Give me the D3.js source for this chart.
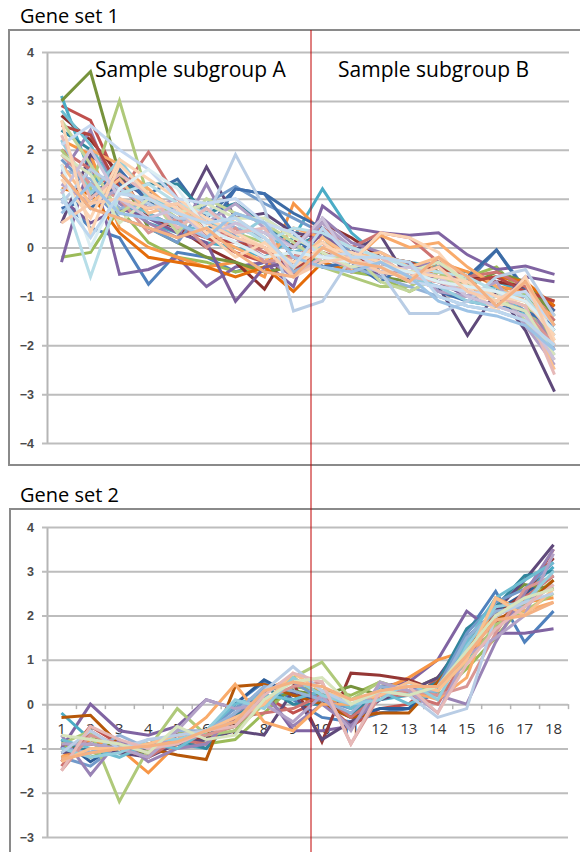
<!DOCTYPE html>
<html>
<head>
<meta charset="utf-8">
<script src="https://cdn.jsdelivr.net/npm/d3@7"></script>
<style>
  body { margin: 0; background: #fff; }
  svg { display: block; font-family: Carlito, Calibri, "Open Sans", sans-serif; }
</style>
</head>
<body>
<div id="chart"></div>
<script>
// samples 1..18
var samples = d3.range(1, 19);

// gene set 1 profiles (one row per gene)
var set1Colors = ["#4F81BD", "#C0504D", "#9BBB59", "#8064A2", "#4BACC6", "#F79646",
  "#3C6BA5", "#8B2F2C", "#77933C", "#5F497A", "#31859C", "#E46C0A",
  "#729ACA", "#CD7371", "#AFC97A", "#9983B5", "#6FBDD1", "#F9AB6B",
  "#3F6FAE", "#B34541", "#7A5C99", "#95B3D7", "#D99694", "#C3D69B",
  "#B3A2C7", "#93CDDD", "#FAC090", "#B9CDE5", "#B7DEE8", "#FCD5B5",
  "#E6B9B8", "#D7E4BD", "#CCC1DA", "#C6D9F1", "#FBD4B4", "#DBEEF3",
  "#F8CBAD", "#9DC3E6", "#F4B183", "#BDD7EE"];
var set1Values = [
  [1.0, 0.4, 0.2, -0.75, -0.1, -0.2, -0.5, -0.3, -0.5, -0.3, -0.5, -0.4, -0.6, -0.4, -0.7, -0.05, -0.85, -1.3],
  [2.9, 2.6, 1.3, 0.7, 0.4, 0.2, -0.1, -0.3, -0.4, -0.1, -0.3, -0.5, -0.6, -0.7, -0.8, -0.9, -0.7, -1.3],
  [-0.2, -0.1, 0.8, 0.1, -0.2, -0.3, -0.5, -0.4, -0.3, -0.1, -0.5, -0.6, -0.9, -0.6, -0.6, -0.4, -1.0, -1.5],
  [-0.3, 1.8, -0.55, -0.45, -0.2, -0.8, -0.4, -0.3, -0.8, 0.85, 0.4, 0.3, 0.25, 0.3, -0.15, -0.45, -0.38, -0.55],
  [3.1, 1.5, 1.0, 0.5, 0.3, 0.1, 0.0, -0.2, 0.2, 1.2, 0.3, -0.2, -0.3, -0.4, -0.5, -0.7, -0.9, -1.6],
  [2.2, 1.9, 0.4, 0.0, -0.2, -0.4, -0.3, -0.6, 0.9, 0.3, -0.5, -0.2, -0.6, -0.3, -0.5, -0.8, -0.9, -1.1],
  [1.5, 0.8, 1.3, 1.1, 1.4, 0.6, 1.2, 1.1, 0.7, 0.4, 0.0, -0.4, -0.5, -0.3, -0.6, -0.05, -0.9, -1.3],
  [2.7, 2.2, 1.5, 0.6, 0.4, 0.0, -0.3, -0.85, 0.1, 0.5, 0.2, -0.2, -0.3, -0.5, -0.6, -0.7, -0.8, -1.2],
  [3.0, 3.6, 1.5, 0.4, 0.1, -0.2, -0.3, -0.5, -0.4, -0.2, -0.4, -0.6, -0.7, -0.4, -0.8, -0.5, -0.7, -1.4],
  [0.5, 1.9, 1.4, 1.0, 0.5, 1.65, 0.6, 0.7, 0.3, 0.2, -0.1, 0.25, -0.7, -0.8, -1.8, -0.9, -1.7, -2.95],
  [2.4, 2.0, 1.2, 1.3, 1.3, 0.7, 0.9, 0.5, 0.0, 0.3, -0.3, -0.4, -0.5, -0.6, -0.9, -0.8, -1.1, -1.7],
  [1.2, 1.1, 0.3, -0.2, -0.3, -0.4, -0.6, -0.4, -0.9, -0.3, -0.5, -0.2, -0.3, -0.6, -0.7, -0.6, -0.7, -1.2],
  [1.8, 1.2, 0.6, 0.4, 0.1, 0.9, 1.25, 0.9, 0.6, 0.3, -0.1, -0.5, -0.6, -0.6, -0.8, -0.9, -1.3, -1.8],
  [2.0, 1.6, 1.1, 1.95, 1.0, 0.4, 0.2, -0.1, -0.2, 0.4, 0.0, 0.3, 0.2, -0.3, -0.6, -0.5, -0.8, -1.5],
  [2.0, 1.2, 3.0, 1.0, 0.6, 0.5, 0.3, 0.1, -0.3, -0.4, -0.6, -0.8, -0.8, -0.5, -0.9, -1.0, -1.2, -1.9],
  [1.5, 2.4, 0.9, 0.5, 0.2, 1.3, 0.2, -0.2, -0.6, 0.6, 0.1, -0.1, -0.4, -0.3, -0.9, -1.1, -1.0, -2.1],
  [2.8, 2.1, 1.0, 0.7, 0.4, 0.4, 0.5, 0.3, -0.1, 0.1, -0.2, -0.3, -0.5, -0.7, -1.0, -0.8, -1.4, -2.0],
  [1.1, 2.0, 1.7, 1.2, 0.7, 0.3, 0.0, -0.3, 0.4, 0.2, -0.3, 0.25, 0.0, 0.1, -0.4, -0.8, -1.1, -1.4],
  [0.8, 1.0, 1.6, 0.9, 0.8, 0.3, 1.2, 1.1, 0.3, -0.4, -0.3, -0.7, -0.3, -0.9, -1.1, -1.2, -1.3, -1.6],
  [2.5, 2.3, 1.2, 0.8, 0.9, 0.2, 0.1, 0.0, -0.5, 0.0, -0.1, -0.5, -0.6, -0.4, -0.7, -0.6, -0.9, -1.1],
  [1.0, 0.5, 0.8, 0.6, 0.3, 0.1, -1.1, -0.4, -0.3, 0.3, -0.2, -0.6, -0.3, -0.7, -1.0, -1.2, -0.6, -0.7],
  [1.6, 1.4, 0.8, 0.9, 0.5, 0.8, 0.4, 0.2, -0.5, -0.2, -0.4, -0.6, -0.8, -1.0, -1.2, -1.3, -1.5, -2.2],
  [1.9, 1.3, 1.0, 0.3, 0.6, 0.0, 0.4, -0.3, -0.2, 0.1, -0.5, -0.3, -0.7, -0.8, -0.9, -1.1, -1.3, -2.0],
  [2.6, 1.7, 0.7, 1.1, 0.3, 1.0, 0.7, 0.5, 0.1, -0.3, -0.1, -0.7, -0.9, -0.6, -0.8, -0.9, -1.5, -2.3],
  [1.3, 0.9, 1.2, 0.8, 1.0, 0.5, 0.9, 0.4, 0.0, 0.5, 0.0, -0.4, -0.5, -0.9, -1.0, -0.7, -1.6, -2.4],
  [2.2, 1.1, 1.8, 1.0, 0.8, 0.6, 0.2, 0.6, 0.2, 0.0, -0.3, -0.5, -0.6, -0.8, -1.1, -1.2, -1.4, -2.1],
  [1.7, 0.9, 1.4, 0.7, 0.9, 0.3, 0.6, 0.2, -0.4, 0.2, -0.2, -0.1, -0.4, -0.2, -0.8, -1.0, -1.2, -2.5],
  [0.9, 1.6, 1.2, 0.9, 0.6, 0.6, 1.9, 0.8, -1.3, -1.1, -0.2, -0.5, -1.35, -1.35, -1.1, -0.6, -0.45, -1.4],
  [1.2, -0.6, 1.1, 1.3, 0.9, 0.7, 0.5, 0.1, 0.4, 0.3, 0.0, -0.2, -0.4, -0.5, -0.6, -0.9, -1.0, -1.8],
  [1.4, 0.6, 1.8, 1.4, 1.0, 0.6, 0.3, 0.0, -0.3, 0.1, -0.3, 0.3, 0.2, -0.1, -0.8, -1.3, -0.6, -1.9],
  [2.3, 1.0, 1.5, 1.1, 0.4, 0.8, 0.3, 0.4, -0.6, -0.2, -0.4, -0.2, -0.6, -0.7, -0.9, -1.0, -1.2, -2.6],
  [1.9, 1.5, 0.5, 1.0, 0.7, 0.9, 0.6, 0.6, 0.2, -0.1, -0.4, -0.3, -0.5, -0.3, -0.7, -1.1, -1.3, -2.2],
  [1.1, 2.0, 1.0, 0.6, 0.8, 0.2, 0.5, 0.3, 0.0, 0.6, -0.3, -0.5, -0.4, -0.6, -1.0, -1.2, -1.4, -2.3],
  [2.1, 2.5, 2.0, 1.6, 1.0, 0.9, 1.0, 0.5, 0.3, -0.2, -0.1, -0.4, -0.7, -0.8, -0.9, -1.0, -0.9, -1.6],
  [2.6, 0.3, 1.7, 1.1, 0.8, 0.3, -0.2, 0.1, -0.4, 0.0, -0.1, -0.3, -0.5, -0.6, -0.7, -1.0, -1.1, -1.8],
  [1.7, 0.0, 1.2, 1.6, 1.2, 0.4, 0.1, -0.2, -0.1, -0.2, -0.3, -0.4, -0.5, -0.7, -0.8, -0.9, -1.1, -1.7],
  [0.5, 0.9, 1.0, 0.8, 0.9, 0.5, 0.2, 0.0, -0.6, -0.3, -0.2, -0.5, -0.6, -0.4, -0.9, -1.1, -0.7, -2.0],
  [0.7, 1.3, 0.7, 0.6, 0.5, 0.2, 0.7, 0.5, -0.2, -0.4, -0.5, -0.3, -0.6, -1.1, -1.3, -1.4, -1.6, -2.1],
  [1.5, 0.8, 0.6, 0.4, 0.2, 0.4, -0.1, -0.5, -0.6, 0.0, -0.3, -0.4, -0.7, -0.2, -0.6, -1.2, -0.7, -1.6],
  [1.0, 0.2, 1.1, 1.0, 0.7, 0.5, 0.6, 0.2, -0.4, 0.4, -0.2, -0.2, -0.3, -1.0, -1.2, -1.3, -1.5, -2.0]
];

// gene set 2 profiles
var set2Colors = ["#4F81BD", "#C0504D", "#9BBB59", "#8064A2", "#4BACC6", "#F79646",
  "#2C5D98", "#953735", "#77933C", "#5F497A", "#31859C", "#B65708",
  "#729ACA", "#CD7371", "#AFC97A", "#9983B5", "#6FBDD1", "#F9AB6B",
  "#95B3D7", "#D99694", "#B3A2C7", "#93CDDD", "#FAC090", "#B9CDE5",
  "#E6B9B8", "#D7E4BD", "#F4B183"];
var set2Values = [
  [-1.0, -0.8, -1.1, -1.0, -0.8, -0.6, 0.0, 0.5, 0.1, -0.3, -0.4, -0.2, -0.1, 0.3, 1.6, 2.55, 1.4, 2.1],
  [-1.3, -0.5, -0.9, -1.1, -0.7, -0.9, -0.3, 0.2, -0.2, 0.1, -0.5, -0.1, 0.0, 0.6, 1.3, 1.8, 2.4, 3.5],
  [-0.9, -1.2, -1.0, -1.2, -0.6, -0.9, -0.8, -0.2, 0.4, 0.3, 0.2, 0.5, 0.3, 0.2, 0.8, 1.5, 2.3, 2.8],
  [-1.0, 0.0, -0.6, -0.7, -0.5, 0.1, -0.1, 0.3, -0.6, -0.6, -0.5, 0.4, 0.5, 1.0, 2.1, 1.6, 1.6, 1.7],
  [-0.2, -0.8, -1.1, -1.1, -0.9, -1.0, -0.2, 0.1, 0.3, 0.0, -0.2, 0.1, 0.2, 0.4, 1.0, 2.0, 2.5, 3.1],
  [-1.2, -0.8, -1.0, -1.55, -0.9, -0.7, -0.4, 0.3, 0.6, 0.2, -0.1, 0.3, 0.6, 1.0, 1.2, 2.0, 2.3, 2.4],
  [-0.8, -1.3, -0.9, -1.0, -0.9, -0.8, 0.0, 0.55, 0.2, 0.1, -0.3, -0.1, -0.1, 0.5, 1.5, 2.1, 2.5, 2.9],
  [-0.9, -0.9, -1.0, -0.9, -0.7, -0.8, -0.4, 0.3, 0.5, -0.85, 0.7, 0.65, 0.55, 0.3, 1.4, 2.0, 2.5, 3.3],
  [-1.1, -0.7, -1.0, -1.1, -0.8, -0.7, -0.5, 0.0, 0.3, 0.2, 0.4, 0.2, 0.3, 0.6, 1.2, 2.2, 2.7, 2.6],
  [-1.1, -1.0, -1.1, -1.2, -0.9, -0.8, -0.6, -0.7, 0.3, -0.8, -0.4, 0.1, 0.3, 0.6, 1.5, 2.1, 2.8, 3.6],
  [-0.8, -1.1, -1.0, -0.9, -0.8, -1.0, -0.3, 0.4, 0.0, 0.0, -0.3, 0.4, 0.2, 0.5, 1.7, 2.2, 2.9, 3.0],
  [-0.3, -0.25, -0.9, -1.0, -1.15, -1.25, 0.4, 0.45, 0.2, 0.0, -0.3, -0.2, -0.2, 0.5, 1.3, 1.9, 2.2, 2.8],
  [-1.2, -1.4, -0.9, -1.0, -0.7, -0.6, -0.1, 0.3, 0.5, 0.1, -0.1, 0.3, 0.4, 0.4, 1.6, 2.3, 2.6, 3.2],
  [-1.4, -0.6, -1.0, -1.2, -0.8, -0.9, -0.3, -0.2, -0.1, 0.2, -0.3, 0.2, 0.2, 0.0, 1.1, 1.7, 2.4, 2.9],
  [-0.9, -0.6, -2.2, -1.0, -0.1, -0.7, -0.6, 0.0, 0.6, 0.95, 0.1, 0.5, 0.3, 0.4, 0.9, 1.8, 2.1, 2.5],
  [-0.7, -1.6, -0.8, -1.3, -1.0, -0.9, -0.2, 0.2, -0.5, 0.0, -0.5, 0.2, 0.4, 0.2, 0.0, 1.4, 2.5, 3.5],
  [-0.8, -1.0, -1.2, -0.9, -1.0, -0.6, 0.0, 0.2, 0.1, 0.3, -0.1, 0.3, 0.0, 0.3, 1.4, 2.4, 2.8, 3.2],
  [-1.2, -1.1, -1.0, -0.9, -0.8, -0.3, 0.45, -0.4, -0.6, 0.0, 0.0, 0.2, 0.3, 0.1, 0.6, 2.4, 2.1, 2.3],
  [-1.0, -1.1, -0.7, -1.0, -0.6, -0.6, -0.2, 0.4, 0.3, 0.1, -0.2, 0.4, 0.3, 0.3, 1.5, 2.1, 2.2, 2.7],
  [-1.5, -0.7, -0.9, -1.1, -0.8, -0.7, -0.5, 0.1, 0.4, 0.5, -0.9, 0.2, 0.3, 0.2, 0.4, 1.6, 2.6, 2.9],
  [-0.9, -0.9, -1.0, -1.2, -0.6, 0.1, -0.1, 0.0, -0.4, 0.2, -0.6, 0.5, 0.3, -0.2, 1.1, 1.5, 2.0, 3.4],
  [-1.0, -1.2, -1.1, -0.8, -0.8, -0.6, 0.1, -0.1, 0.6, 0.2, 0.0, 0.1, 0.5, 0.1, 1.3, 2.2, 2.3, 3.0],
  [-1.3, -1.0, -1.0, -0.9, -0.7, -0.6, -0.3, 0.0, 0.7, 0.3, 0.1, 0.2, 0.5, 0.3, 1.0, 2.4, 2.0, 2.6],
  [-1.1, -0.6, -1.0, -0.8, -0.7, -0.6, -0.4, 0.3, 0.85, 0.3, 0.0, 0.3, 0.2, -0.3, -0.1, 2.0, 2.3, 2.5],
  [-1.5, -0.5, -0.8, -1.0, -0.9, -0.6, -0.5, 0.2, 0.7, 0.5, -0.9, 0.3, 0.4, -0.2, 0.9, 1.7, 2.2, 2.7],
  [-0.7, -0.8, -0.9, -1.1, -0.5, -0.8, -0.7, 0.1, 0.5, 0.6, 0.0, 0.3, 0.2, 0.4, 1.2, 2.0, 2.4, 2.6],
  [-1.25, -1.1, -1.0, -0.95, -0.85, -0.6, -0.4, 0.3, 0.5, 0.4, 0.1, 0.3, 0.4, 0.4, 1.1, 1.9, 2.0, 2.3]
];

var set1Ticks = [-4, -3, -2, -1, 0, 1, 2, 3, 4];
var set2Ticks = [-3, -2, -1, 0, 1, 2, 3, 4];

var width = 580;
var height = 852;

var svg = d3.select("#chart")
    .append("svg")
    .attr("width", width)
    .attr("height", height);

// one panel = frame + title + grid + lines
function drawPanel(p) {
    var g = svg.append("g");

    g.append("rect")
        .attr("x", p.boxX)
        .attr("y", p.boxY)
        .attr("width", width + 20)
        .attr("height", p.boxH)
        .attr("fill", "#fff")
        .attr("stroke", "#8a8a8a")
        .attr("stroke-width", 2);

    g.append("text")
        .attr("x", 20)
        .attr("y", p.boxY - 7)
        .attr("font-size", 20)
        .attr("font-family", "'Open Sans', sans-serif")
        .attr("fill", "#000")
        .text(p.title);

    var x = d3.scaleBand()
        .domain(samples)
        .range([p.left, p.right]);

    var y = d3.scaleLinear()
        .domain(p.domain)
        .range([p.bottom, p.top]);

    // y axis with gridlines
    var yAxis = d3.axisLeft(y)
        .tickValues(p.ticks)
        .tickSizeInner(-(p.right - p.left))
        .tickSizeOuter(0)
        .tickPadding(13)
        .tickFormat(d3.format("d"));

    var ya = g.append("g")
        .attr("transform", `translate(${p.left},0)`)
        .call(yAxis);
    ya.select(".domain")
        .attr("stroke", "#b5b5b5")
        .attr("stroke-width", 2);
    ya.selectAll(".tick line")
        .attr("x1", -5)
        .attr("stroke", "#bdbdbd")
        .attr("stroke-width", 2);
    ya.selectAll(".tick text")
        .attr("font-size", 12.5)
        .attr("font-weight", "bold")
        .attr("fill", "#4a4a4a")
        .attr("font-family", "'Liberation Sans', Arial, sans-serif");

    if (p.xLabels) {
        var xb = d3.scaleLinear().domain([0, 18]).range([p.left, p.right]);
        var tickAxis = d3.axisBottom(xb)
            .ticks(18)
            .tickSize(5)
            .tickFormat("");
        var ta = g.append("g")
            .attr("transform", `translate(0,${y(0)})`)
            .call(tickAxis);
        ta.select(".domain").remove();
        ta.selectAll(".tick line").attr("stroke", "#b5b5b5").attr("stroke-width", 1.5);

        var labAxis = d3.axisBottom(x).tickSize(0).tickPadding(19);
        var la = g.append("g")
            .attr("transform", `translate(0,${y(0)})`)
            .call(labAxis);
        la.select(".domain").remove();
        la.selectAll(".tick text")
            .attr("font-size", 15)
            .attr("fill", "#333")
            .attr("font-family", "'Open Sans', sans-serif");
    }

    var line = d3.line()
        .x(function(d, i) { return x(samples[i]) + x.bandwidth() / 2; })
        .y(function(d) { return y(d); });

    g.append("g")
        .selectAll("path")
        .data(p.values)
        .enter()
        .append("path")
        .attr("d", line)
        .attr("fill", "none")
        .attr("stroke", function(d, i) { return p.colors[i % p.colors.length]; })
        .attr("stroke-width", 3)
        .attr("stroke-linejoin", "miter");

    return g;
}

var panel1 = drawPanel({
    title: "Gene set 1",
    boxX: 9, boxY: 30, boxH: 435,
    left: 47, right: 569, top: 52, bottom: 443,
    domain: [-4, 4], ticks: set1Ticks,
    values: set1Values, colors: set1Colors,
    xLabels: false
});

panel1.append("text")
    .attr("x", 95)
    .attr("y", 77)
    .attr("font-size", 21)
    .attr("font-family", "'Open Sans', sans-serif")
    .text("Sample subgroup A");
panel1.append("text")
    .attr("x", 338)
    .attr("y", 77)
    .attr("font-size", 21)
    .attr("font-family", "'Open Sans', sans-serif")
    .text("Sample subgroup B");

drawPanel({
    title: "Gene set 2",
    boxX: 10, boxY: 509, boxH: 400,
    left: 47, right: 568, top: 527, bottom: 837,
    domain: [-3, 4], ticks: set2Ticks,
    values: set2Values, colors: set2Colors,
    xLabels: true
});

// divider between the two subgroups, drawn over both panels
svg.append("line")
    .attr("x1", 311).attr("x2", 311)
    .attr("y1", 30).attr("y2", height)
    .attr("stroke", "#c00000")
    .attr("stroke-width", 1);
</script>
</body>
</html>
